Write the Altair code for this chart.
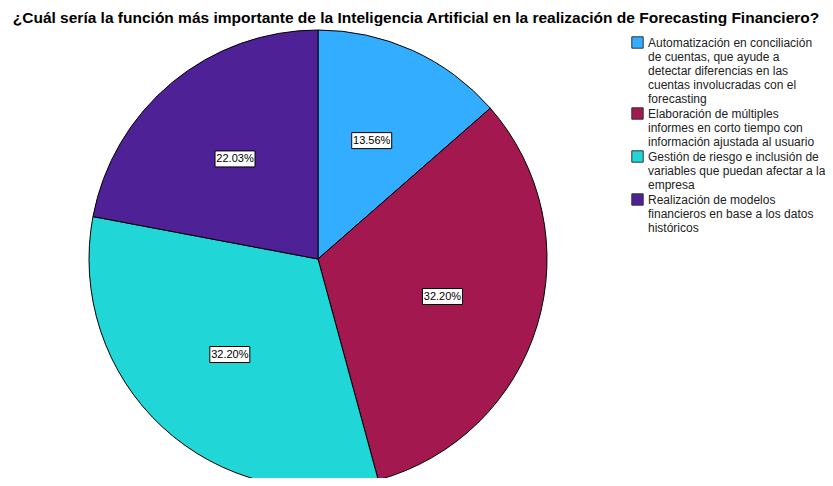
import altair as alt
import pandas as pd

titulo = "¿Cuál sería la función más importante de la Inteligencia Artificial en la realización de Forecasting Financiero?"
categorias = [
    "Automatización en conciliación\nde cuentas, que ayude a\ndetectar diferencias en las\ncuentas involucradas con el\nforecasting",
    "Elaboración de múltiples\ninformes en corto tiempo con\ninformación ajustada al usuario",
    "Gestión de riesgo e inclusión de\nvariables que puedan afectar a la\nempresa",
    "Realización de modelos\nfinancieros en base a los datos\nhistóricos",
]
conteos = [8, 19, 19, 13]
orden = [0, 1, 2, 3]
colores = ["#33adff", "#a3194f", "#21d6d6", "#4f2196"]

df = pd.DataFrame({"categoria": categorias, "n": conteos, "orden": orden})

R = 229
LR = 130
FONT = "Liberation Sans"

color_scale = alt.Scale(domain=categorias, range=colores)

pie = alt.Chart(df).mark_arc(outerRadius=R, stroke="black", strokeWidth=1).encode(
    theta=alt.Theta("n:Q", stack=True),
    color=alt.Color(
        "categoria:N",
        scale=color_scale,
        sort=categorias,
        legend=alt.Legend(
            title=None,
            orient="none",
            legendX=542,
            legendY=6,
            symbolType="square",
            symbolSize=130,
            symbolStrokeColor="#333333",
            symbolStrokeWidth=1,
            labelFont=FONT,
            labelFontSize=12,
            labelColor="#222222",
            labelLimit=400,
            labelOffset=4,
            padding=0,
            rowPadding=0,
            labelExpr="split(datum.label, '\\n')",
        ),
    ),
    order=alt.Order("orden:Q"),
    x=alt.value(R),
    y=alt.value(R),
)

base = (
    alt.Chart(df)
    .transform_joinaggregate(total="sum(n)")
    .transform_window(cum="sum(n)", sort=[alt.SortField("orden")], frame=[None, 0])
    .transform_calculate(
        mid="(datum.cum - datum.n/2)/datum.total*2*PI",
        lx=f"sin(datum.mid)*{LR}",
        ly=f"-cos(datum.mid)*{LR}",
        pct="format(datum.n/datum.total, '.2%')",
        bx1="datum.lx-20",
        bx2="datum.lx+20",
        by1="datum.ly-8",
        by2="datum.ly+8",
    )
)

xs = alt.Scale(domain=[-R, R], range=[0, 2 * R])
ys = alt.Scale(domain=[-R, R], range=[0, 2 * R])

boxes = base.mark_rect(fill="white", stroke="black", strokeWidth=1).encode(
    x=alt.X("bx1:Q", scale=xs, axis=None),
    x2="bx2:Q",
    y=alt.Y("by1:Q", scale=ys, axis=None),
    y2="by2:Q",
)
texts = base.mark_text(font=FONT, fontSize=11, color="black").encode(
    x=alt.X("lx:Q", scale=xs, axis=None),
    y=alt.Y("ly:Q", scale=ys, axis=None),
    text="pct:N",
)

chart = (
    alt.layer(pie, boxes, texts)
    .properties(
        width=2 * R,
        height=448,
        autosize=alt.AutoSizeParams(type="none"),
        padding={"left": 81, "top": 22, "right": 278, "bottom": 0},
        view=alt.ViewBackground(stroke="transparent", strokeWidth=0, strokeOpacity=0),
        title=alt.TitleParams(
            titulo,
            font=FONT,
            fontSize=15.5,
            fontWeight="bold",
            color="black",
            anchor="middle",
            frame="group",
            dx=98,
            dy=17,
            offset=7,
            baseline="alphabetic",
        ),
    )
    .configure_view(stroke="transparent", strokeWidth=0)
    .configure(background="white")
)

chart.save("out.html", embed_options={"renderer": "svg", "actions": False})
